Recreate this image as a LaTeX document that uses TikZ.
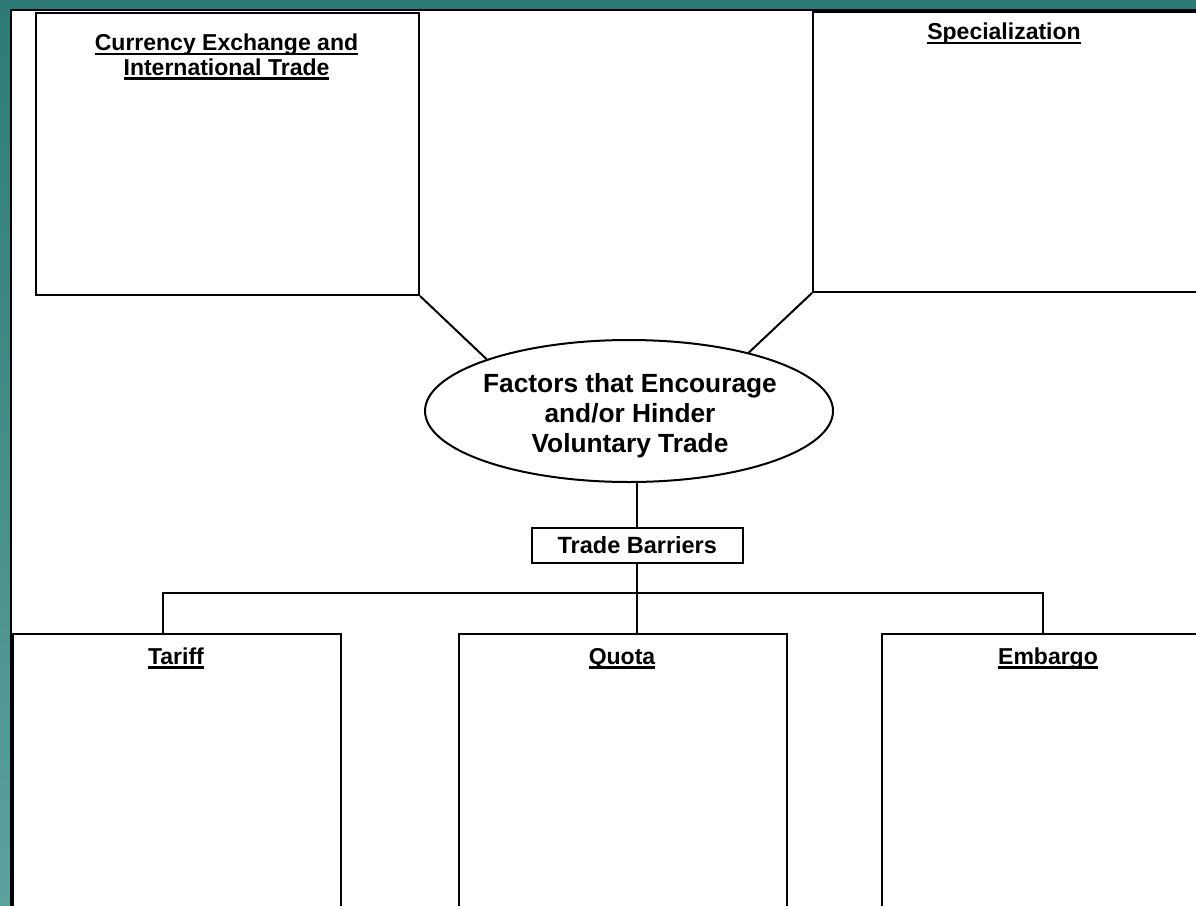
\documentclass[tikz,border=0pt]{standalone}
\usepackage{fontspec}
\setmainfont{Liberation Sans}
\usetikzlibrary{shapes.geometric}
\definecolor{tealtop}{HTML}{2E7A77}
\definecolor{tealbot}{HTML}{5DA19D}
\newsavebox\ulbox
\newcommand\ulx[1]{\leavevmode\sbox\ulbox{#1}\rlap{\vrule width\wd\ulbox height -2.3pt depth 4.5pt}\usebox\ulbox}
\tikzset{
  box/.style={draw=black, line width=2pt, fill=white, inner sep=0pt, anchor=north west},
  ttl/.style={font=\bfseries\fontsize{23}{24.5}\selectfont, align=center, inner sep=0pt, anchor=base},
  conn/.style={draw=black, line width=2pt},
}
\begin{document}
\begin{tikzpicture}[x=1pt, y=-1pt]
\useasboundingbox (0,0) rectangle (1196,905);
\clip (0,0) rectangle (1196,905);
\shade[top color=tealtop, bottom color=tealbot] (0,0) rectangle (1196,905);
\fill[white] (11,10) rectangle (1200,910);
\draw[line width=2.5pt] (11,1000) -- (11,10) -- (1200,10);
% boxes
\node[box, minimum width=383, minimum height=282] (cur) at (35,12) {};
\node[box, minimum width=384, minimum height=280] (spec) at (812,11) {};
\node[box, minimum width=328, minimum height=300] (tariff) at (12,633) {};
\node[box, minimum width=328, minimum height=300] (quota) at (458,633) {};
\node[box, minimum width=334, minimum height=300] (embargo) at (881,633) {};
\node[box, minimum width=211, minimum height=35, line width=1.6pt] (tb) at (531,527)
  {\bfseries\fontsize{23.5}{25}\selectfont Trade Barriers};
\node[ellipse, draw=black, line width=2pt, fill=white, minimum width=408, minimum height=142,
  inner sep=0pt] (ell) at (629,411) {};
\node[align=center, inner sep=0pt, font=\bfseries\fontsize{26.3}{30}\selectfont] (ellT) at (630,416)
  {Factors that Encourage\\and/or Hinder\\Voluntary Trade};
% titles
\node[ttl] (curT) at (226.5,75) {\ulx{Currency Exchange and}\\\ulx{International Trade}};
\node[ttl] (specT) at (1004,39.5) {\ulx{Specialization}};
\node[ttl] (tarT) at (176,664) {\ulx{Tariff}};
\node[ttl] (quoT) at (622,664) {\ulx{Quota}};
\node[ttl] (embT) at (1048,664) {\ulx{Embargo}};
% connectors
\draw[conn] (cur.south east) -- (ell.160);
\draw[conn] (spec.south west) -- (ell.26);
\draw[conn] (ell.south -| tb.north) -- (tb.north);
\draw[conn] (tb.south) -- (tb.south |- quota.north);
\coordinate (hl) at (163,593);
\coordinate (hr) at (1043,593);
\draw[conn] (tariff.north -| hl) |- (hr) -- (hr |- embargo.north);
\end{tikzpicture}
\end{document}
